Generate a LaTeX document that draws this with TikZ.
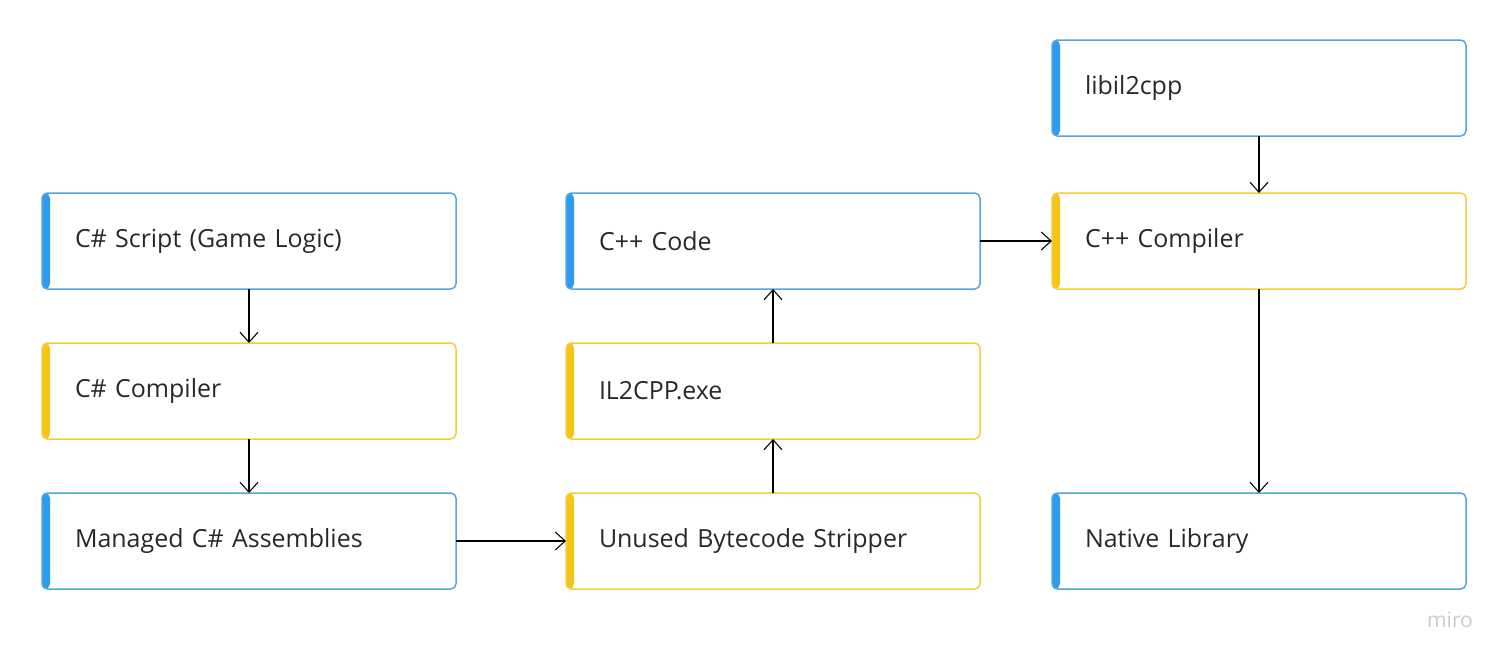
\documentclass[tikz,border=0pt]{standalone}
\usepackage{fontspec}
\setmainfont{Open Sans}
\usetikzlibrary{positioning,arrows.meta}
\definecolor{FrameBlue}{RGB}{82,167,224}
\definecolor{BarBlue}{RGB}{45,155,240}
\definecolor{FrameYellow}{RGB}{240,206,60}
\definecolor{BarYellow}{RGB}{245,197,24}
\definecolor{TextGrey}{RGB}{40,40,40}
\tikzset{
  flow/.style={-{Straight Barb[length=2mm,width=3.6mm]},line width=0.6pt,draw=black},
  card/.style={rounded corners=3pt,line width=0.85pt,fill=white,outer sep=0pt,
    minimum width=8.28cm,minimum height=1.92cm,text width=6.96cm,
    inner xsep=0.66cm,align=left,font=\fontsize{14.2}{17}\selectfont,text=TextGrey},
  bluecard/.style={card,draw=FrameBlue,path picture={
    \fill[BarBlue] (path picture bounding box.north west) rectangle
      ([xshift=0.16cm]path picture bounding box.south west);}},
  yellowcard/.style={card,draw=FrameYellow,path picture={
    \fill[BarYellow] (path picture bounding box.north west) rectangle
      ([xshift=0.16cm]path picture bounding box.south west);}}
}
\begin{document}
\begin{tikzpicture}[node distance=1.08cm and 2.2cm]
  \useasboundingbox (0,0) rectangle (30.18,-13.24);
  % managed side
  \node[bluecard,anchor=north west] (script) at (0.84,-3.86) {C\# Script (Game Logic)};
  \node[yellowcard,below=of script] (cscomp) {C\# Compiler};
  \node[bluecard,below=of cscomp] (assemblies) {Managed C\# Assemblies};
  % il2cpp side
  \node[yellowcard,right=of assemblies] (stripper) {Unused Bytecode Stripper};
  \node[yellowcard,above=of stripper] (ilexe) {IL2CPP.exe};
  \node[bluecard,above=of ilexe] (cppcode) {C++ Code};
  % native side
  \node[yellowcard,right=1.44cm of cppcode] (cppcomp) {C++ Compiler};
  \node[bluecard,above=1.14cm of cppcomp] (libil) {libil2cpp};
  \node[bluecard,below=4.08cm of cppcomp] (native) {Native Library};
  \draw[flow] (script) -- (cscomp);
  \draw[flow] (cscomp) -- (assemblies);
  \draw[flow] (assemblies) -- (stripper);
  \draw[flow] (stripper) -- (ilexe);
  \draw[flow] (ilexe) -- (cppcode);
  \draw[flow] (cppcode) -- (cppcomp);
  \draw[flow] (libil) -- (cppcomp);
  \draw[flow] (cppcomp) -- (native);
  \node[text=black!20,font=\fontsize{12}{14}\selectfont] (brand) at (29.0,-12.4) {miro};
\end{tikzpicture}
\end{document}
